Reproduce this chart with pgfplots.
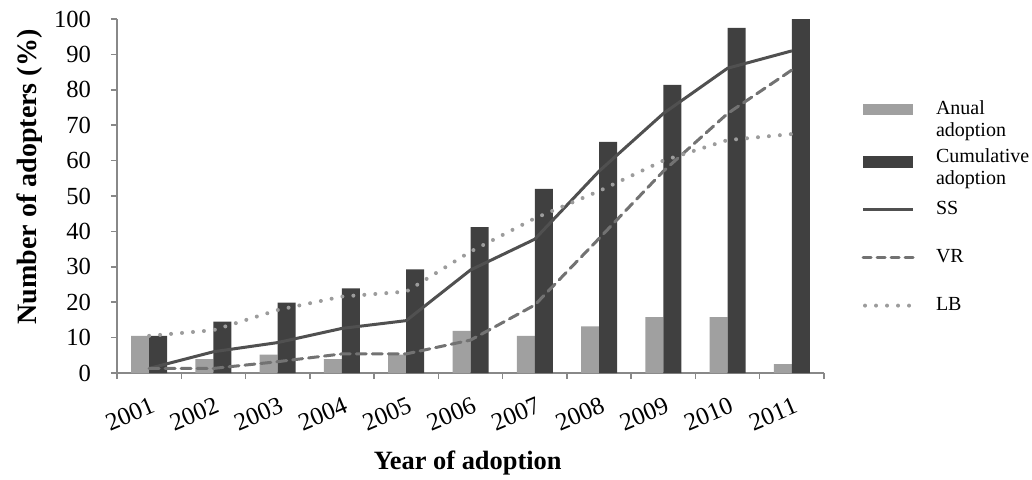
\documentclass[border=0pt]{standalone}
\usepackage{fontspec}
\setmainfont{Liberation Serif}
\usepackage{pgfplots}
\pgfplotsset{compat=1.18}
\definecolor{lightbar}{HTML}{A0A0A0}
\definecolor{darkbar}{HTML}{404040}
\definecolor{ssline}{HTML}{505050}
\definecolor{vrline}{HTML}{727272}
\definecolor{lbline}{HTML}{9C9C9C}
\definecolor{axisgray}{HTML}{888888}
\begin{document}
\begin{tikzpicture}
\useasboundingbox (-58.5pt,-53pt) rectangle (457.5pt,186.5pt);
\begin{axis}[
  scale only axis, width=353.5pt, height=177pt,
  xmin=-0.5, xmax=10.5, ymin=0, ymax=100,
  axis x line*=bottom, axis y line*=left,
  axis line style={axisgray, line width=0.75pt},
  tick align=outside,
  xtick={0,...,10},
  xticklabels={2001,2002,2003,2004,2005,2006,2007,2008,2009,2010,2011},
  major x tick style={draw=none},
  minor xtick={-0.5,0.5,...,10.5},
  minor x tick style={axisgray, line width=0.75pt},
  minor tick length=3pt,
  ytick={0,10,...,100},
  y tick style={axisgray, line width=0.75pt},
  major tick length=3pt,
  /pgf/number format/assume math mode=true,
  yticklabel style={font=\fontsize{12.3}{14}\selectfont, xshift=-6.5pt},
  xticklabel style={font=\fontsize{12.5}{14}\selectfont, rotate=23, anchor=north east, inner sep=0pt, yshift=-8pt, xshift=-3pt},
  xlabel={Year of adoption},
  xlabel style={at={(axis description cs:0.496,-0.254)}, anchor=center, font=\bfseries\fontsize{13.2}{16}\selectfont},
  ylabel={Number of adopters (\%)},
  ylabel style={at={(axis description cs:-0.123,0.554)}, anchor=center, font=\bfseries\fontsize{14}{16}\selectfont},
  legend style={at={(axis description cs:1.044,0.813)}, anchor=north west, draw=none, fill=none,
    font=\fontsize{10}{11.2}\selectfont, row sep=0pt, column sep=10.5pt,
    nodes={minimum height=24pt, inner sep=0pt}},
  legend cell align=left,
]
\addplot[ybar, bar width=9pt, bar shift=-4.5pt, fill=lightbar, draw=none,
  legend image code/.code={\fill[lightbar] (0pt,-0.8pt) rectangle (25pt,4.8pt);}]
  coordinates {(0,10.5) (1,3.9) (2,5.2) (3,3.9) (4,5.2) (5,11.9) (6,10.5) (7,13.2) (8,15.8) (9,15.8) (10,2.5)};
\addlegendentry{\begin{tabular}{@{}l@{}}Anual\\adoption\end{tabular}}
\addplot[ybar, bar width=9pt, bar shift=4.5pt, fill=darkbar, draw=none,
  legend image code/.code={\fill[darkbar] (0pt,-3pt) rectangle (25pt,3pt);}]
  coordinates {(0,10.5) (1,14.5) (2,19.9) (3,23.9) (4,29.3) (5,41.2) (6,52.0) (7,65.3) (8,81.4) (9,97.5) (10,100)};
\addlegendentry{\begin{tabular}{@{}l@{}}Cumulative\\adoption\end{tabular}}
\addplot[ssline, line width=1.5pt, line join=round,
  legend image code/.code={\draw[ssline, line width=1.5pt] (0pt,0pt) -- (25pt,0pt);}]
  coordinates {(0,1.3) (1,6.0) (2,8.6) (3,12.6) (4,14.8) (5,29.1) (6,37.8) (7,57.0) (8,73.3) (9,86.1) (10,91.0)};
\addlegendentry{SS}
\addplot[vrline, line width=1.5pt, dash pattern=on 5pt off 3pt, line cap=round, line join=round,
  legend image code/.code={\draw[vrline, line width=1.5pt, dash pattern=on 4pt off 3pt] (0pt,0pt) -- (25pt,0pt);}]
  coordinates {(0,1.3) (1,1.3) (2,3.2) (3,5.4) (4,5.4) (5,9.3) (6,19.2) (7,38.0) (8,57.0) (9,73.3) (10,85.6)};
\addlegendentry{VR}
\addplot[lbline, line width=2pt, dash pattern=on 0pt off 5.5pt, line cap=round,
  legend image code/.code={\draw[lbline, line width=2pt, dash pattern=on 0pt off 5.5pt, line cap=round] (1pt,0pt) -- (25pt,0pt);}]
  coordinates {(0,10.5) (1,12.1) (2,17.8) (3,21.6) (4,23.0) (5,34.3) (6,43.7) (7,51.4) (8,60.0) (9,65.8) (10,67.5)};
\addlegendentry{LB}
\end{axis}
\end{tikzpicture}
\end{document}
